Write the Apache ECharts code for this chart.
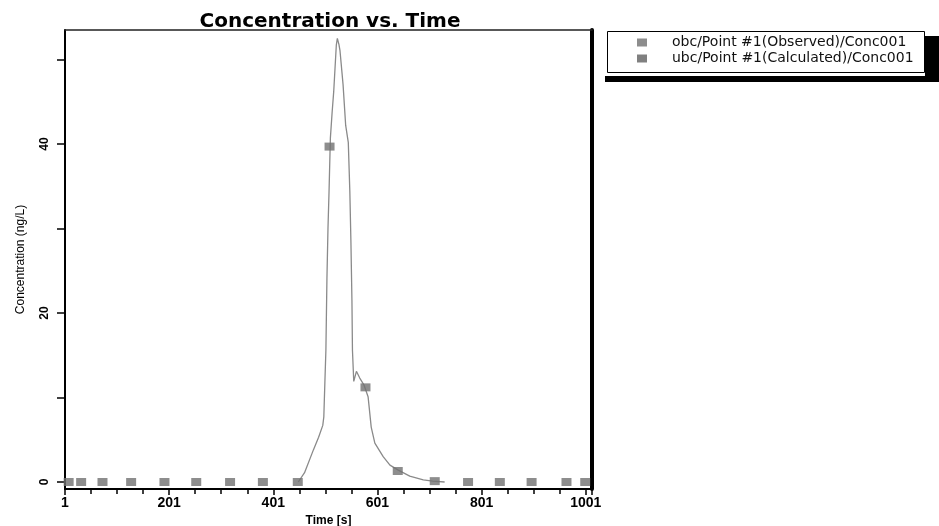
<!DOCTYPE html>
<html>
<head>
<meta charset="utf-8">
<script src="https://cdn.jsdelivr.net/npm/echarts@6/dist/echarts.min.js"></script>
<style>html,body{margin:0;padding:0;background:#fff}#c{width:939px;height:526px}</style>
</head>
<body>
<div id="c"></div>
<script>
// ---- data ----
const titleText = 'Concentration vs. Time';
const xName = 'Time [s]';
const yName = 'Concentration (ng/L)';
const observedName = 'obc/Point #1(Observed)/Conc001';
const calculatedName = 'ubc/Point #1(Calculated)/Conc001';
const yTickValues = [0, 10, 20, 30, 40, 50];
const yLabelValues = [0, 20, 40];

const observedTime = [8, 32, 73, 128, 192, 253, 318, 381, 448, 509, 578, 640, 711, 775, 836, 897, 964, 1000];
const observedConc = [0, 0, 0, 0, 0, 0, 0, 0, 0, 39.7, 11.2, 1.3, 0.1, 0, 0, 0, 0, 0];

const calcTime = [449, 461, 478, 488, 496, 498, 500, 502, 504, 506, 508, 510.6, 514, 517, 522, 524, 527, 529, 535, 540, 545, 548, 550, 552, 553, 555.5, 560.6, 567, 575, 583, 589, 596, 612, 625, 641, 663, 689, 707, 730];
const calcConc = [0, 1.1, 3.8, 5.3, 6.7, 7.7, 11.7, 15.6, 24.1, 30, 34.3, 40.7, 43.8, 46.2, 51.7, 52.5, 51.8, 51.1, 47, 42.2, 40.2, 34.3, 28.6, 21.5, 15.6, 11.9, 13.1, 12.3, 11.5, 10.1, 6.5, 4.6, 3.0, 2.0, 1.4, 0.7, 0.24, 0.1, 0];

const observed = observedTime.map((t, i) => [t, observedConc[i]]);
const calculated = calcTime.map((t, i) => [t, calcConc[i]]);

const chart = echarts.init(document.getElementById('c'), null, {renderer: 'canvas'});
const axisBlack = '#000';
chart.setOption({
  animation: false,
  backgroundColor: '#fff',
  title: {
    text: titleText, left: 325, top: 7, textAlign: 'center',
    textStyle: {fontFamily: 'DejaVu Sans', fontWeight: 'bold', fontSize: 20, color: '#000'}
  },
  graphic: [
    {type: 'rect', z: 0, shape: {x: 605, y: 76, width: 340, height: 6}, style: {fill: '#000'}},
    {type: 'rect', z: 0, shape: {x: 925, y: 36, width: 20, height: 46}, style: {fill: '#000'}},
    {type: 'rect', z: 1, shape: {x: 607.5, y: 31.5, width: 317, height: 41}, style: {fill: '#fff', stroke: '#000', lineWidth: 1}}
  ],
  legend: {
    left: 637, top: 35, orient: 'vertical', itemGap: 1, padding: 0,
    icon: 'rect', itemWidth: 10, itemHeight: 8,
    data: [observedName, calculatedName],
    textStyle: {fontFamily: 'DejaVu Sans', fontSize: 14, lineHeight: 15, color: '#111', padding: [0, 0, 0, 20]}
  },
  grid: {left: 65, right: 347, top: 30, bottom: 37, outerBoundsMode: 'none', containLabel: false},
  xAxis: [{
    type: 'value', min: 1, max: 1013, interval: 200,
    name: xName, nameLocation: 'middle', nameGap: 21,
    nameTextStyle: {fontFamily: 'Liberation Sans', fontWeight: 'bold', fontSize: 12, color: '#000'},
    axisLine: {show: true, onZero: false, lineStyle: {color: axisBlack, width: 2}},
    axisTick: {show: true, length: 6, lineStyle: {color: axisBlack, width: 1.5}},
    minorTick: {show: true, splitNumber: 4, length: 5, lineStyle: {color: axisBlack, width: 1.5}},
    axisLabel: {margin: 7, fontFamily: 'Liberation Sans', fontWeight: 'bold', fontSize: 14, color: '#000',
      showMaxLabel: false, formatter: v => String(v)},
    splitLine: {show: false}
  }, {
    type: 'value', position: 'top', min: 1, max: 1013,
    axisLine: {show: true, onZero: false, lineStyle: {color: '#222', width: 1.5}},
    axisTick: {show: false}, axisLabel: {show: false}, splitLine: {show: false}
  }],
  yAxis: [{
    type: 'value', min: -0.83, max: 53.5,
    name: yName, nameLocation: 'middle', nameGap: 38, nameRotate: 90,
    nameTextStyle: {fontFamily: 'Liberation Sans', fontSize: 12, color: '#000'},
    axisLine: {show: true, onZero: false, lineStyle: {color: axisBlack, width: 2}},
    axisTick: {show: true, length: 8, customValues: yTickValues, lineStyle: {color: axisBlack, width: 1.5}},
    axisLabel: {customValues: yLabelValues, rotate: 90, margin: 14, fontFamily: 'Liberation Sans', fontWeight: 'bold', fontSize: 12, color: '#000'},
    splitLine: {show: false}
  }, {
    type: 'value', position: 'right', min: -0.83, max: 53.5,
    axisLine: {show: true, onZero: false, lineStyle: {color: '#000', width: 4}},
    axisTick: {show: false}, axisLabel: {show: false}, splitLine: {show: false}
  }],
  series: [{
    name: calculatedName, type: 'line', data: calculated, z: 2,
    showSymbol: false, symbol: 'none',
    itemStyle: {color: '#808080'},
    lineStyle: {color: '#8a8a8a', width: 1.3}
  }, {
    name: observedName, type: 'scatter', data: observed, z: 3,
    symbol: 'rect', symbolSize: [10, 8],
    itemStyle: {color: '#707070'}
  }]
});
</script>
</body>
</html>
